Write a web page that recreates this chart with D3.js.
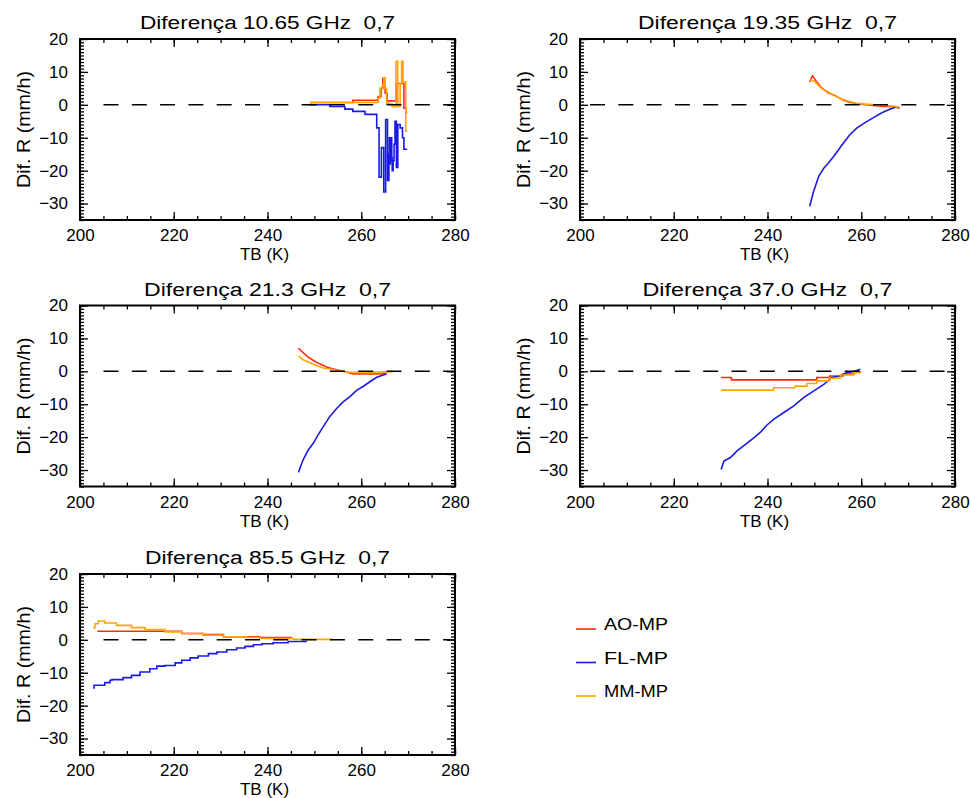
<!DOCTYPE html>
<html><head><meta charset="utf-8">
<script src="https://cdn.jsdelivr.net/npm/d3@7"></script>
<style>
body{margin:0;background:#fff}
text{font-family:"Liberation Sans",Arial,sans-serif;fill:#000}
</style>
</head><body>
<svg id="c" width="970" height="798"></svg>
<script>
// ---------------- data ----------------
const titles = [
  "Diferença 10.65 GHz  0,7",
  "Diferença 19.35 GHz  0,7",
  "Diferença 21.3 GHz  0,7",
  "Diferença 37.0 GHz  0,7",
  "Diferença 85.5 GHz  0,7"
];
const xTicks = [200, 220, 240, 260, 280];
const yTicks = [20, 10, 0, -10, -20, -30];
const xDomain = [200, 280];
const yDomain = [-35, 20];
const seriesNames = ["AO-MP", "FL-MP", "MM-MP"];
const xLabel = "TB (K)";
const yLabel = "Dif. R (mm/h)";

// 10.65 GHz  [TB, diff]
const ao_1065 = [[249.2,0.7],[258.2,1.4],[263.4,1.4],[263.6,2.5],[264.2,5.0],[264.6,8.0],[265.1,3.5],[265.5,1.2],[267.3,1.2],[267.5,6.5],[268.8,6.5],[269.1,-1.0],[269.5,-2.5],[269.8,-2.5]];
const fl_1065 = [[249.0,0.0],[253.3,-0.5],[256.5,-1.3],[258.2,-2.0],[260.8,-2.9],[263.3,-7.0],[263.8,-22.0],[264.3,-13.0],[264.8,-26.5],[265.2,-4.5],[265.6,-23.0],[265.9,-15.0],[266.0,-10.0],[266.1,-18.0],[266.2,-11.0],[266.3,-17.0],[266.4,-10.0],[266.5,-16.0],[266.6,-20.0],[266.8,-17.0],[267.0,-12.0],[267.2,-5.0],[267.5,-19.0],[267.8,-6.0],[268.3,-7.0],[268.8,-10.0],[269.1,-13.5],[269.8,-13.5]];
const mm_1065 = [[248.7,0.0],[249.2,0.7],[263.3,0.7],[263.6,2.0],[264.0,5.0],[264.5,6.0],[264.8,8.2],[265.1,5.0],[265.4,0.5],[266.0,0.2],[266.6,-0.6],[267.4,13.2],[267.8,-0.5],[268.3,6.5],[268.6,13.2],[268.9,7.0],[269.2,7.0],[269.5,-8.0],[269.8,-8.0]];

// 19.35 GHz
const ao_1935 = [[249.0,7.0],[249.6,8.8],[250.4,7.2],[251.5,5.2],[253.0,3.6],[254.5,2.8],[256.0,1.5],[257.5,0.8],[259.0,0.4],[261.0,0.0],[263.0,-0.3],[265.0,-0.5],[267.0,-0.6],[268.2,-1.0]];
const fl_1935 = [[249.0,-30.8],[249.8,-26.5],[250.9,-21.8],[252.0,-19.3],[253.0,-17.7],[254.1,-15.7],[255.2,-13.6],[256.2,-11.6],[257.6,-9.0],[259.1,-7.0],[260.8,-5.4],[262.6,-3.9],[264.4,-2.4],[266.2,-1.3],[267.6,-0.6],[268.0,-0.9]];
const mm_1935 = [[249.0,7.6],[250.0,7.2],[251.5,5.0],[253.0,3.8],[254.5,2.6],[256.0,1.7],[257.5,1.0],[259.0,0.5],[261.0,0.2],[263.0,0.0],[265.0,-0.2],[267.0,-0.4],[268.0,-0.8]];

// 21.3 GHz
const ao_213 = [[246.6,7.0],[247.6,5.7],[248.7,4.3],[249.8,3.3],[251.2,2.2],[252.6,1.3],[254.1,0.7],[256.2,0.0],[258.3,-0.8],[264.0,-0.8],[265.4,-0.6]];
const fl_213 = [[246.6,-30.7],[247.6,-26.9],[248.7,-23.9],[249.8,-21.8],[250.8,-19.3],[251.9,-16.8],[253.3,-13.7],[254.8,-11.2],[256.2,-9.2],[257.6,-7.7],[259.0,-5.8],[260.4,-4.6],[261.9,-3.1],[263.3,-1.8],[264.7,-1.1],[265.4,-0.8]];
const mm_213 = [[246.6,4.7],[247.6,3.5],[249.0,2.7],[250.5,1.7],[251.9,1.0],[254.1,0.5],[256.9,-0.2],[261.9,-0.3],[266.8,-0.1]];

// 37.0 GHz
const ao_370 = [[230.1,-1.9],[232.3,-2.6],[250.5,-1.9],[253.3,-1.4],[256.1,-0.8],[258.5,-0.3],[259.8,0.0]];
const fl_370 = [[230.1,-29.8],[230.7,-27.3],[232.1,-26.2],[233.5,-24.2],[235.3,-22.2],[237.0,-20.3],[238.5,-18.5],[239.9,-16.3],[241.3,-14.6],[243.4,-12.6],[245.6,-10.5],[247.7,-8.0],[249.8,-6.0],[252.0,-4.0],[253.7,-1.9],[255.5,-1.4],[256.9,-0.4],[258.3,-0.1],[259.8,0.6]];
const mm_370 = [[230.1,-5.7],[241.3,-5.0],[245.9,-4.5],[248.4,-3.7],[250.5,-2.9],[253.3,-2.1],[255.5,-1.1],[258.3,-0.4],[259.8,0.0]];

// 85.5 GHz
const ao_855 = [[203.7,2.6],[218.1,2.6],[221.7,1.9],[226.3,1.6],[230.6,0.9],[238.4,0.7],[245.2,0.7]];
const fl_855 = [[202.8,-14.6],[203.0,-13.8],[205.3,-13.0],[206.4,-12.3],[206.8,-12.1],[209.2,-11.5],[211.0,-10.8],[212.8,-9.8],[214.9,-8.8],[216.4,-8.0],[218.1,-7.8],[220.3,-7.0],[221.7,-6.2],[223.5,-5.5],[225.2,-4.9],[227.4,-4.2],[229.2,-3.7],[231.3,-3.0],[233.4,-2.5],[235.2,-2.0],[237.0,-1.5],[238.8,-1.2],[241.2,-0.9],[244.4,-0.5],[248.4,-0.5]];
const mm_855 = [[202.8,3.6],[203.2,4.9],[203.9,5.7],[205.3,5.1],[207.8,4.4],[211.0,3.7],[213.9,3.1],[218.1,2.4],[221.7,1.9],[226.3,1.4],[230.6,0.9],[235.6,0.7],[238.4,0.4],[245.5,0.15],[254.0,0.15]];

// ---------------- layout / style ----------------
const colors = ["#ff2a10", "#1a1ae6", "#ffa500"];
const W = 375, H = 181;
const panels = [
  {x0: 80,  y0: 39,    title: titles[0], tw: 255, series: [ao_1065, fl_1065, mm_1065], curves: ["step","step","step"], dashPad: 23.5},
  {x0: 580, y0: 39,    title: titles[1], tw: 259, series: [ao_1935, fl_1935, mm_1935], curves: ["lin","lin","lin"], dashPad: 10},
  {x0: 80,  y0: 305.5, title: titles[2], tw: 247, series: [ao_213, fl_213, mm_213], curves: ["lin","lin","lin"], dashPad: 23.5},
  {x0: 580, y0: 305.5, title: titles[3], tw: 250, series: [ao_370, fl_370, mm_370], curves: ["step","lin","step"], dashPad: 10},
  {x0: 80,  y0: 574,   title: titles[4], tw: 245, series: [ao_855, fl_855, mm_855], curves: ["step","step","step"], dashPad: 23.5}
];

const svg = d3.select("#c");

panels.forEach(p => {
  const g = svg.append("g").attr("transform", `translate(${p.x0},${p.y0})`);
  const x = d3.scaleLinear().domain(xDomain).range([0, W]);
  const y = d3.scaleLinear().domain(yDomain).range([H, 0]);

  // title
  g.append("text").attr("x", W/2).attr("y", -10).attr("text-anchor","middle")
    .attr("font-size", 18).attr("textLength", p.tw).attr("lengthAdjust","spacingAndGlyphs")
    .style("white-space","pre").text(p.title);

  // data
  [0, 1, 2].forEach(i => {
    const line = d3.line().x(d => x(d[0])).y(d => y(d[1]))
      .curve(p.curves[i] === "step" ? d3.curveStepAfter : d3.curveLinear);
    g.append("path").datum(p.series[i]).attr("d", line)
      .attr("fill","none").attr("stroke", colors[i]).attr("stroke-width", 1.6);
  });

  // zero line
  g.append("line").attr("x1", x(xDomain[0]) + p.dashPad).attr("x2", x(xDomain[1]))
    .attr("y1", y(0)).attr("y2", y(0))
    .attr("stroke","#000").attr("stroke-width",1.6).attr("stroke-dasharray","15,13.3");

  // axes (inward ticks)
  const fmt = d3.format("d");
  const bottom = g.append("g").attr("transform",`translate(0,${H})`)
    .call(d3.axisBottom(x).tickValues(xTicks).tickSize(-8).tickPadding(9).tickFormat(fmt));
  bottom.selectAll("text").attr("font-size",17).attr("font-family","Liberation Sans");
  g.append("g").attr("transform",`translate(0,${H})`)
    .call(d3.axisBottom(x).tickValues(d3.range(200,281,5)).tickSize(-4).tickFormat(""));
  g.append("g").call(d3.axisTop(x).tickValues(xTicks).tickSize(-8).tickFormat(""));
  g.append("g").call(d3.axisTop(x).tickValues(d3.range(200,281,5)).tickSize(-4).tickFormat(""));

  const left = g.append("g").call(d3.axisLeft(y).tickValues(yTicks).tickSize(-8).tickPadding(12).tickFormat(fmt));
  left.selectAll("text").attr("font-size",17).attr("font-family","Liberation Sans");
  g.append("g").call(d3.axisLeft(y).tickValues(d3.range(-35,21,1)).tickSize(-4).tickFormat(""));
  g.append("g").attr("transform",`translate(${W},0)`)
    .call(d3.axisRight(y).tickValues(yTicks).tickSize(-8).tickFormat(""));
  g.append("g").attr("transform",`translate(${W},0)`)
    .call(d3.axisRight(y).tickValues(d3.range(-35,21,1)).tickSize(-4).tickFormat(""));

  g.selectAll(".domain").remove();
  g.selectAll(".tick line").attr("stroke","#000").attr("stroke-width",1.3);

  // frame
  g.append("rect").attr("width", W).attr("height", H)
    .attr("fill","none").attr("stroke","#000").attr("stroke-width",2);

  // axis labels
  g.append("text").attr("x", W/2 - 3).attr("y", H + 40).attr("text-anchor","middle")
    .attr("font-size",17).text(xLabel);
  g.append("text").attr("transform",`translate(-50,${H/2}) rotate(-90)`)
    .attr("text-anchor","middle").attr("font-size",18)
    .attr("textLength",117).attr("lengthAdjust","spacingAndGlyphs").text(yLabel);
});

// legend
const leg = svg.append("g").attr("transform","translate(576,629)");
seriesNames.forEach((n, i) => {
  const gy = i * 33.5;
  leg.append("line").attr("x1",0).attr("x2",20).attr("y1",gy).attr("y2",gy)
    .attr("stroke", colors[i]).attr("stroke-width",1.6);
  leg.append("text").attr("x",28).attr("y",gy+1).attr("font-size",17)
    .attr("textLength",64).attr("lengthAdjust","spacingAndGlyphs").text(n);
});
</script>
</body></html>
